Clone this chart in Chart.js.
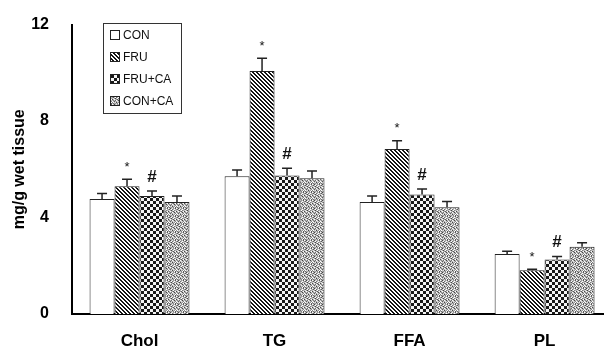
<!DOCTYPE html>
<html>
<head>
<meta charset="utf-8">
<script src="https://cdn.jsdelivr.net/npm/chart.js@4"></script>
<style>
  html, body { margin: 0; padding: 0; background: #fff; }
  #wrap { width: 604px; height: 349px; }
</style>
</head>
<body>
<div id="wrap"><canvas id="chart"></canvas></div>
<script>
// data
const categories = ["Chol", "TG", "FFA", "PL"];
const seriesNames = ["CON", "FRU", "FRU+CA", "CON+CA"];
const con    = [4.77, 5.71, 4.64, 2.49];
const fru    = [5.30, 10.08, 6.84, 1.81];
const fruCa  = [4.89, 5.74, 4.96, 2.26];
const conCa  = [4.64, 5.63, 4.43, 2.79];
const conErr   = [0.23, 0.26, 0.25, 0.11];
const fruErr   = [0.29, 0.52, 0.34, 0.05];
const fruCaErr = [0.21, 0.30, 0.22, 0.12];
const conCaErr = [0.25, 0.30, 0.23, 0.16];
const marks = ["", "*", "#", ""]; // per series, shown above every group
const yTicks = [0, 4, 8, 12];

// tile patterns
function makePattern(n, fn) {
  const c = document.createElement("canvas");
  c.width = n; c.height = n;
  const g = c.getContext("2d");
  const img = g.createImageData(n, n);
  for (let y = 0; y < n; y++) {
    for (let x = 0; x < n; x++) {
      const v = fn(x, y);
      const i = (y * n + x) * 4;
      img.data[i] = v; img.data[i + 1] = v; img.data[i + 2] = v; img.data[i + 3] = 255;
    }
  }
  g.putImageData(img, 0, 0);
  return document.getElementById("chart").getContext("2d").createPattern(c, "repeat");
}
const diagPat = makePattern(4, (x, y) => (((x - y) % 4 + 4) % 4 < 2 ? 20 : 255));
const checkPat = makePattern(6, (x, y) => ((Math.floor(x / 3) + Math.floor(y / 3)) % 2 === 0 ? 25 : 245));
// stipple tile for CON+CA
const dots = [
  [255, 190, 70, 190, 230, 150, 190, 90],
  [150, 90, 190, 255, 110, 190, 255, 190],
  [190, 230, 150, 70, 190, 255, 130, 170],
  [70, 190, 255, 190, 150, 90, 190, 255],
  [190, 130, 190, 110, 255, 190, 70, 190],
  [255, 190, 90, 190, 170, 230, 190, 130],
  [130, 255, 190, 230, 70, 190, 150, 255],
  [190, 110, 170, 150, 190, 130, 255, 90]
];
const dotPat = makePattern(8, (x, y) => dots[y][x]);

const values = [con, fru, fruCa, conCa];
const errs = [conErr, fruErr, fruCaErr, conCaErr];
const fills = ["#ffffff", diagPat, checkPat, dotPat];

const errorBars = {
  id: "errorBars",
  afterDatasetsDraw(chart) {
    const ctx = chart.ctx;
    const y = chart.scales.y;
    ctx.save();
    ctx.strokeStyle = "#222";
    ctx.lineWidth = 1.5;
    chart.data.datasets.forEach((ds, di) => {
      const meta = chart.getDatasetMeta(di);
      meta.data.forEach((bar, i) => {
        const top = y.getPixelForValue(values[di][i]);
        const hi = y.getPixelForValue(values[di][i] + errs[di][i]);
        ctx.beginPath();
        ctx.moveTo(bar.x, top);
        ctx.lineTo(bar.x, hi);
        ctx.moveTo(bar.x - 5, hi);
        ctx.lineTo(bar.x + 5, hi);
        ctx.stroke();
        const m = marks[di];
        if (m) {
          ctx.fillStyle = "#111";
          ctx.textAlign = "center";
          ctx.textBaseline = "middle";
          if (m === "*") {
            ctx.font = "13px 'Liberation Sans', Arial, sans-serif";
            ctx.fillText(m, bar.x, hi - 12);
          } else {
            ctx.font = "bold 17px 'Liberation Sans', Arial, sans-serif";
            ctx.fillText(m, bar.x, hi - 14);
          }
        }
      });
    });
    ctx.restore();
  }
};

const boxLegend = {
  id: "boxLegend",
  afterDraw(chart) {
    const ctx = chart.ctx;
    ctx.save();
    ctx.strokeStyle = "#333";
    ctx.lineWidth = 1;
    ctx.strokeRect(103.5, 23.5, 78, 90);
    ctx.font = "12px 'Liberation Sans', Arial, sans-serif";
    ctx.textBaseline = "middle";
    ctx.textAlign = "left";
    chart.data.datasets.forEach((ds, i) => {
      const cy = 35 + i * 22;
      ctx.fillStyle = ds.backgroundColor;
      ctx.fillRect(110, cy - 5, 10, 10);
      ctx.strokeStyle = "#222";
      ctx.strokeRect(110.5, cy - 4.5, 9, 9);
      ctx.fillStyle = "#111";
      ctx.fillText(ds.label, 123, cy + 1);
    });
    ctx.restore();
  }
};

new Chart(document.getElementById("chart"), {
  type: "bar",
  data: {
    datasets: seriesNames.map((name, di) => ({
      label: name,
      data: values[di].map((v, i) => ({ x: i, y: v })),
      backgroundColor: fills[di],
      borderColor: "#222",
      borderWidth: 1,
      categoryPercentage: 0.74,
      barPercentage: 1.0
    }))
  },
  options: {
    responsive: true,
    maintainAspectRatio: false,
    animation: false,
    layout: { padding: { top: 22, right: 0, left: 0, bottom: 0 } },
    plugins: {
      legend: { display: false },
      tooltip: { enabled: false }
    },
    scales: {
      x: {
        type: "linear",
        offset: false,
        min: -0.5,
        max: 3.44,
        grid: { display: false },
        border: { display: true, color: "#000", width: 2 },
        afterBuildTicks: (s) => { s.ticks = categories.map((c, i) => ({ value: i })); },
        afterFit: (s) => { s.height = 35; },
        ticks: {
          padding: 9,
          color: "#000",
          font: { family: "'Liberation Sans', Arial, sans-serif", size: 17, weight: "bold" },
          callback: (v) => categories[v]
        }
      },
      y: {
        min: 0,
        max: 12,
        grid: { display: false },
        border: { display: true, color: "#000", width: 2 },
        afterBuildTicks: (s) => { s.ticks = yTicks.map((v) => ({ value: v })); },
        afterFit: (s) => { s.width = 72; },
        ticks: {
          padding: 15,
          color: "#000",
          font: { family: "'Liberation Sans', Arial, sans-serif", size: 16, weight: "bold" }
        },
        title: {
          display: true,
          text: "mg/g wet tissue",
          color: "#000",
          padding: { top: 10, bottom: 0 },
          font: { family: "'Liberation Sans', Arial, sans-serif", size: 16, weight: "bold" }
        }
      }
    }
  },
  plugins: [errorBars, boxLegend]
});
</script>
</body>
</html>
